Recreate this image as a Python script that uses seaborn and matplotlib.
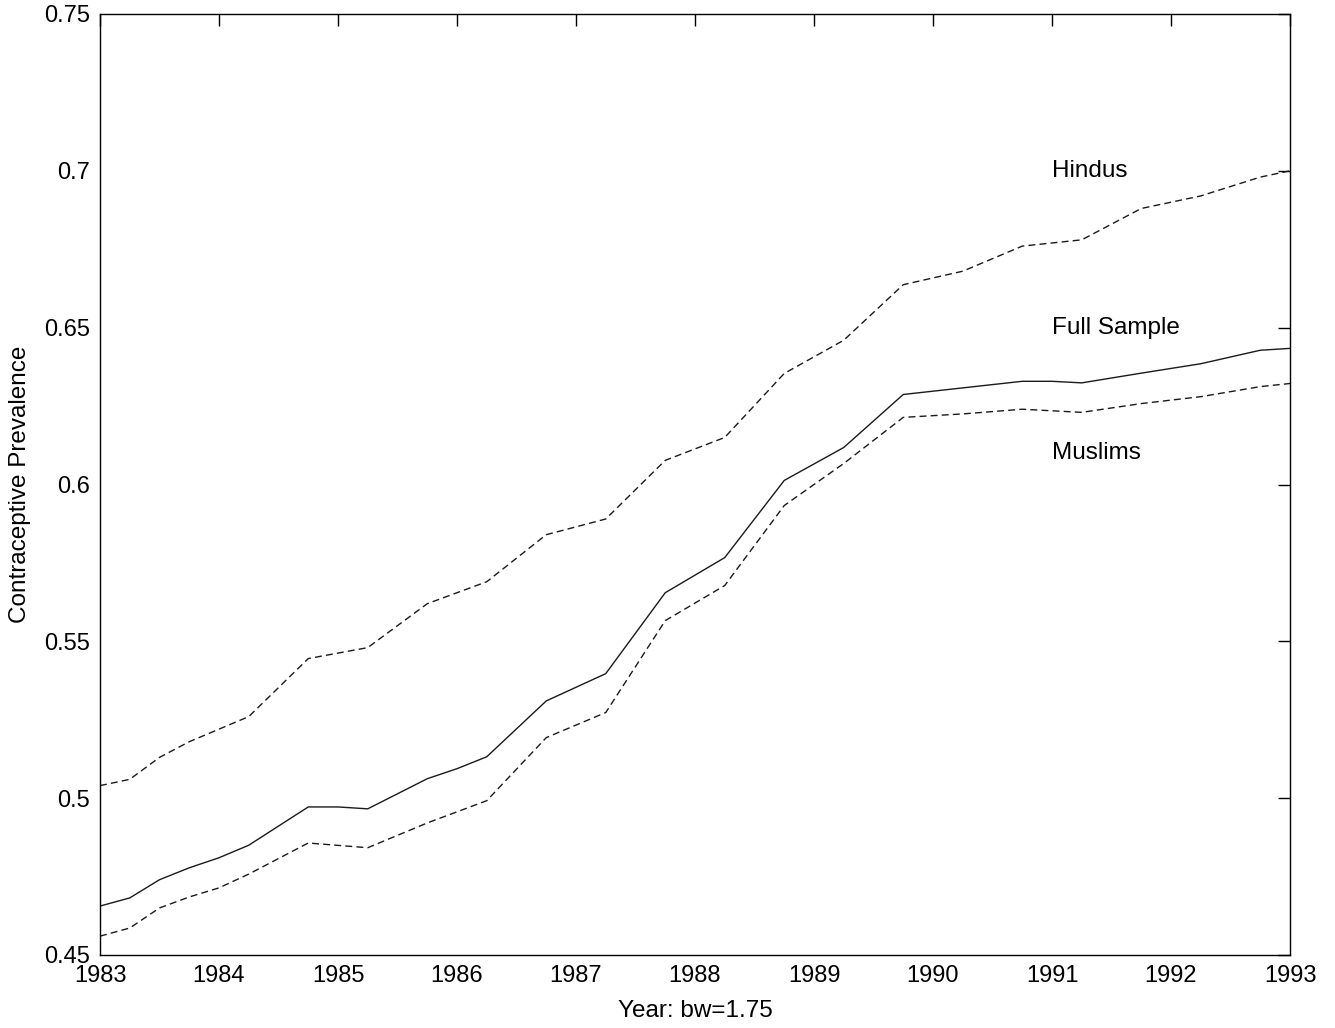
import numpy as np
import pandas as pd
import matplotlib
matplotlib.use("Agg")
import matplotlib.pyplot as plt
import seaborn as sns
from matplotlib.ticker import FuncFormatter

# ---- data ----
years_h = [1983.0, 1983.25, 1983.5, 1983.75, 1984.0, 1984.25, 1984.75, 1985.25, 1985.75,
           1986.25, 1986.75, 1987.25, 1987.75, 1988.25, 1988.75, 1989.25, 1989.75,
           1990.25, 1990.75, 1991.25, 1991.75, 1992.25, 1992.75, 1993.0]
hindus = [0.504, 0.506, 0.513, 0.518, 0.522, 0.526, 0.5445, 0.548, 0.562,
          0.569, 0.584, 0.589, 0.6077, 0.615, 0.6354, 0.646, 0.6637,
          0.668, 0.676, 0.678, 0.688, 0.692, 0.698, 0.700]

years_f = [1983.0, 1983.25, 1983.5, 1983.75, 1984.0, 1984.25, 1984.75, 1985.0, 1985.25,
           1985.75, 1986.0, 1986.25, 1986.75, 1987.25, 1987.75, 1988.25, 1988.75,
           1989.25, 1989.75, 1990.25, 1990.75, 1991.0, 1991.25, 1991.75, 1992.25,
           1992.75, 1993.0]
full_sample = [0.4656, 0.4682, 0.4740, 0.4778, 0.4810, 0.4850, 0.4972, 0.4972, 0.4966,
               0.5062, 0.5094, 0.5132, 0.5310, 0.5397, 0.5655, 0.5767, 0.6013,
               0.6118, 0.6287, 0.6308, 0.6329, 0.6329, 0.6324, 0.6355, 0.6385,
               0.6428, 0.6434]

years_m = [1983.0, 1983.25, 1983.5, 1983.75, 1984.0, 1984.25, 1984.75, 1985.25, 1985.75,
           1986.25, 1986.75, 1987.25, 1987.75, 1988.25, 1988.75, 1989.25, 1989.75,
           1990.25, 1990.75, 1991.25, 1991.75, 1992.25, 1992.75, 1993.0]
muslims = [0.4560, 0.4586, 0.4650, 0.4685, 0.4714, 0.4758, 0.4857, 0.4842, 0.4921,
           0.4992, 0.5193, 0.5273, 0.5566, 0.5678, 0.5933, 0.6067, 0.6214,
           0.6225, 0.6240, 0.6230, 0.6258, 0.6280, 0.6312, 0.6322]

series_names = ["Hindus", "Full Sample", "Muslims"]
label_x = 1991.0
label_y = [0.70, 0.65, 0.610]
x_ticks = list(range(1983, 1994))
y_ticks = [0.45, 0.5, 0.55, 0.6, 0.65, 0.7, 0.75]

df = pd.concat([
    pd.DataFrame({"year": years_h, "value": hindus, "group": "Hindus"}),
    pd.DataFrame({"year": years_f, "value": full_sample, "group": "Full Sample"}),
    pd.DataFrame({"year": years_m, "value": muslims, "group": "Muslims"}),
], ignore_index=True)

sns.set_style("white")
plt.rcParams["font.family"] = ["Liberation Sans", "DejaVu Sans"]

fig = plt.figure(figsize=(13.35, 10.28), dpi=100)
ax = fig.add_axes([100 / 1335, 1 - 955 / 1028, 1190 / 1335, 941 / 1028])

sns.lineplot(data=df, x="year", y="value", hue="group", style="group",
             hue_order=series_names, style_order=series_names,
             palette={"Hindus": "#1a1a1a", "Full Sample": "#1a1a1a", "Muslims": "#1a1a1a"},
             dashes={"Hindus": (5, 3), "Full Sample": "", "Muslims": (5, 3)},
             linewidth=1.0, legend=False, ax=ax, estimator=None, sort=False)

for name, ly in zip(series_names, label_y):
    ax.text(label_x, ly, name, fontsize=17.5, ha="left", va="center", color="black")

ax.set_xlim(1983, 1993)
ax.set_ylim(0.45, 0.75)
ax.set_xticks(x_ticks)
ax.set_yticks(y_ticks)
ax.yaxis.set_major_formatter(FuncFormatter(lambda v, p: f"{v:g}"))
ax.tick_params(axis="both", which="major", direction="in", length=8.5, width=1,
               top=True, right=True, labelsize=17, colors="black")
ax.tick_params(axis="y", pad=7)
ax.tick_params(axis="x", pad=7)
for s in ax.spines.values():
    s.set_visible(True)
    s.set_color("black")
    s.set_linewidth(1.0)
ax.set_xlabel("Year: bw=1.75", fontsize=17.5, color="black")
ax.set_ylabel("Contraceptive Prevalence", fontsize=17.5, color="black")
ax.xaxis.set_label_coords(0.5, (955 - 1011) / 941)
ax.xaxis.label.set_va("center")
ax.yaxis.set_label_coords((20 - 100) / 1190, 0.5)
ax.yaxis.label.set_va("center")

fig.savefig("out.png", dpi=100, facecolor="white")
